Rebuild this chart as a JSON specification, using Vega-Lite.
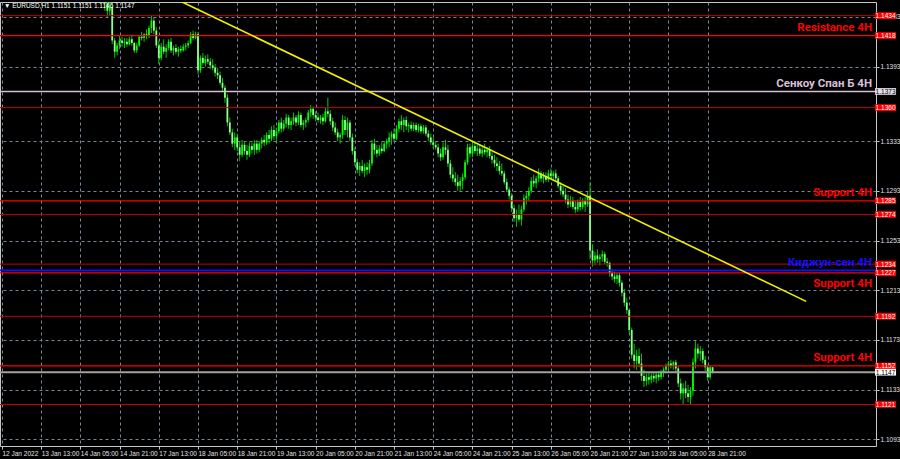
{
"$schema": "https://vega.github.io/schema/vega-lite/v6.json",
"width": 876, "height": 444,
"autosize": {"type": "none"},
"padding": {"left": 0, "top": 2, "right": 24, "bottom": 13},
"background": "#000000",
"config": {"view": {"stroke": "#c8c8c8", "strokeWidth": 1}},
"datasets": {
"candles": [
{"i":40,"o":1.1470,"h":1.1478,"l":1.1458,"c":1.1462},
{"i":41,"o":1.1462,"h":1.1468,"l":1.1448,"c":1.1452},
{"i":42,"o":1.1452,"h":1.1460,"l":1.1438,"c":1.1444},
{"i":43,"o":1.1444,"h":1.1452,"l":1.1433,"c":1.1438},
{"i":44,"o":1.1438,"h":1.1448,"l":1.1434,"c":1.1441},
{"i":45,"o":1.1441,"h":1.1444,"l":1.1411,"c":1.1414},
{"i":46,"o":1.1414,"h":1.1416,"l":1.1400,"c":1.1405},
{"i":47,"o":1.1405,"h":1.1412,"l":1.1402,"c":1.1410},
{"i":48,"o":1.1410,"h":1.1418,"l":1.1407,"c":1.1414},
{"i":49,"o":1.1414,"h":1.1417,"l":1.1409,"c":1.1412},
{"i":50,"o":1.1412,"h":1.1416,"l":1.1408,"c":1.1413},
{"i":51,"o":1.1413,"h":1.1416,"l":1.1409,"c":1.1411},
{"i":52,"o":1.1411,"h":1.1417,"l":1.1410,"c":1.1415},
{"i":53,"o":1.1415,"h":1.1418,"l":1.1410,"c":1.1412},
{"i":54,"o":1.1412,"h":1.1413,"l":1.1404,"c":1.1406},
{"i":55,"o":1.1406,"h":1.1412,"l":1.1404,"c":1.1410},
{"i":56,"o":1.1410,"h":1.1418,"l":1.1409,"c":1.1417},
{"i":57,"o":1.1417,"h":1.1421,"l":1.1414,"c":1.1416},
{"i":58,"o":1.1416,"h":1.1420,"l":1.1413,"c":1.1419},
{"i":59,"o":1.1419,"h":1.1423,"l":1.1415,"c":1.1418},
{"i":60,"o":1.1418,"h":1.1426,"l":1.1416,"c":1.1424},
{"i":61,"o":1.1424,"h":1.1434,"l":1.1420,"c":1.1430},
{"i":62,"o":1.1430,"h":1.1433,"l":1.1419,"c":1.1422},
{"i":63,"o":1.1422,"h":1.1425,"l":1.1408,"c":1.1410},
{"i":64,"o":1.1410,"h":1.1414,"l":1.1395,"c":1.1400},
{"i":65,"o":1.1400,"h":1.1412,"l":1.1398,"c":1.1409},
{"i":66,"o":1.1409,"h":1.1415,"l":1.1403,"c":1.1405},
{"i":67,"o":1.1405,"h":1.1411,"l":1.1400,"c":1.1408},
{"i":68,"o":1.1408,"h":1.1415,"l":1.1406,"c":1.1413},
{"i":69,"o":1.1413,"h":1.1416,"l":1.1404,"c":1.1406},
{"i":70,"o":1.1406,"h":1.1410,"l":1.1402,"c":1.1408},
{"i":71,"o":1.1408,"h":1.1411,"l":1.1403,"c":1.1405},
{"i":72,"o":1.1405,"h":1.1409,"l":1.1401,"c":1.1407},
{"i":73,"o":1.1407,"h":1.1410,"l":1.1404,"c":1.1406},
{"i":74,"o":1.1406,"h":1.1411,"l":1.1405,"c":1.1409},
{"i":75,"o":1.1409,"h":1.1412,"l":1.1406,"c":1.1410},
{"i":76,"o":1.1410,"h":1.1414,"l":1.1408,"c":1.1412},
{"i":77,"o":1.1412,"h":1.1421,"l":1.1411,"c":1.1419},
{"i":78,"o":1.1419,"h":1.1422,"l":1.1414,"c":1.1416},
{"i":79,"o":1.1416,"h":1.1421,"l":1.1415,"c":1.1419},
{"i":80,"o":1.1419,"h":1.1421,"l":1.1387,"c":1.1390},
{"i":81,"o":1.1390,"h":1.1402,"l":1.1388,"c":1.1400},
{"i":82,"o":1.1400,"h":1.1404,"l":1.1394,"c":1.1396},
{"i":83,"o":1.1396,"h":1.1402,"l":1.1393,"c":1.1399},
{"i":84,"o":1.1399,"h":1.1403,"l":1.1395,"c":1.1397},
{"i":85,"o":1.1397,"h":1.1400,"l":1.1391,"c":1.1394},
{"i":86,"o":1.1394,"h":1.1399,"l":1.1390,"c":1.1392},
{"i":87,"o":1.1392,"h":1.1395,"l":1.1385,"c":1.1388},
{"i":88,"o":1.1388,"h":1.1392,"l":1.1383,"c":1.1386},
{"i":89,"o":1.1386,"h":1.1389,"l":1.1378,"c":1.1380},
{"i":90,"o":1.1380,"h":1.1384,"l":1.1373,"c":1.1376},
{"i":91,"o":1.1376,"h":1.1378,"l":1.1364,"c":1.1368},
{"i":92,"o":1.1368,"h":1.1371,"l":1.1345,"c":1.1348},
{"i":93,"o":1.1348,"h":1.1352,"l":1.1338,"c":1.1340},
{"i":94,"o":1.1340,"h":1.1343,"l":1.1328,"c":1.1331},
{"i":95,"o":1.1331,"h":1.1340,"l":1.1326,"c":1.1336},
{"i":96,"o":1.1336,"h":1.1339,"l":1.1325,"c":1.1328},
{"i":97,"o":1.1328,"h":1.1333,"l":1.1317,"c":1.1322},
{"i":98,"o":1.1322,"h":1.1334,"l":1.1320,"c":1.1330},
{"i":99,"o":1.1330,"h":1.1333,"l":1.1322,"c":1.1325},
{"i":100,"o":1.1325,"h":1.1330,"l":1.1318,"c":1.1322},
{"i":101,"o":1.1322,"h":1.1332,"l":1.1320,"c":1.1329},
{"i":102,"o":1.1329,"h":1.1332,"l":1.1323,"c":1.1326},
{"i":103,"o":1.1326,"h":1.1334,"l":1.1322,"c":1.1331},
{"i":104,"o":1.1331,"h":1.1334,"l":1.1323,"c":1.1326},
{"i":105,"o":1.1326,"h":1.1333,"l":1.1324,"c":1.1331},
{"i":106,"o":1.1331,"h":1.1336,"l":1.1327,"c":1.1334},
{"i":107,"o":1.1334,"h":1.1338,"l":1.1329,"c":1.1332},
{"i":108,"o":1.1332,"h":1.1340,"l":1.1330,"c":1.1338},
{"i":109,"o":1.1338,"h":1.1342,"l":1.1331,"c":1.1335},
{"i":110,"o":1.1335,"h":1.1345,"l":1.1333,"c":1.1342},
{"i":111,"o":1.1342,"h":1.1346,"l":1.1334,"c":1.1337},
{"i":112,"o":1.1337,"h":1.1344,"l":1.1332,"c":1.1341},
{"i":113,"o":1.1341,"h":1.1350,"l":1.1339,"c":1.1348},
{"i":114,"o":1.1348,"h":1.1352,"l":1.1340,"c":1.1343},
{"i":115,"o":1.1343,"h":1.1350,"l":1.1341,"c":1.1347},
{"i":116,"o":1.1347,"h":1.1355,"l":1.1344,"c":1.1352},
{"i":117,"o":1.1352,"h":1.1354,"l":1.1343,"c":1.1346},
{"i":118,"o":1.1346,"h":1.1352,"l":1.1342,"c":1.1349},
{"i":119,"o":1.1349,"h":1.1356,"l":1.1346,"c":1.1352},
{"i":120,"o":1.1352,"h":1.1354,"l":1.1345,"c":1.1348},
{"i":121,"o":1.1348,"h":1.1357,"l":1.1346,"c":1.1354},
{"i":122,"o":1.1354,"h":1.1356,"l":1.1344,"c":1.1346},
{"i":123,"o":1.1346,"h":1.1350,"l":1.1342,"c":1.1348},
{"i":124,"o":1.1348,"h":1.1352,"l":1.1344,"c":1.1350},
{"i":125,"o":1.1350,"h":1.1358,"l":1.1348,"c":1.1356},
{"i":126,"o":1.1356,"h":1.1362,"l":1.1352,"c":1.1359},
{"i":127,"o":1.1359,"h":1.1361,"l":1.1351,"c":1.1354},
{"i":128,"o":1.1354,"h":1.1357,"l":1.1349,"c":1.1352},
{"i":129,"o":1.1352,"h":1.1356,"l":1.1348,"c":1.1350},
{"i":130,"o":1.1350,"h":1.1354,"l":1.1347,"c":1.1352},
{"i":131,"o":1.1352,"h":1.1355,"l":1.1346,"c":1.1349},
{"i":132,"o":1.1349,"h":1.1360,"l":1.1348,"c":1.1357},
{"i":133,"o":1.1357,"h":1.1368,"l":1.1352,"c":1.1355},
{"i":134,"o":1.1355,"h":1.1358,"l":1.1346,"c":1.1349},
{"i":135,"o":1.1349,"h":1.1352,"l":1.1341,"c":1.1344},
{"i":136,"o":1.1344,"h":1.1348,"l":1.1338,"c":1.1340},
{"i":137,"o":1.1340,"h":1.1343,"l":1.1333,"c":1.1336},
{"i":138,"o":1.1336,"h":1.1340,"l":1.1331,"c":1.1338},
{"i":139,"o":1.1338,"h":1.1354,"l":1.1335,"c":1.1350},
{"i":140,"o":1.1350,"h":1.1353,"l":1.1338,"c":1.1342},
{"i":141,"o":1.1342,"h":1.1352,"l":1.1336,"c":1.1348},
{"i":142,"o":1.1348,"h":1.1350,"l":1.1333,"c":1.1336},
{"i":143,"o":1.1336,"h":1.1339,"l":1.1322,"c":1.1325},
{"i":144,"o":1.1325,"h":1.1328,"l":1.1313,"c":1.1316},
{"i":145,"o":1.1316,"h":1.1319,"l":1.1307,"c":1.1310},
{"i":146,"o":1.1310,"h":1.1316,"l":1.1305,"c":1.1313},
{"i":147,"o":1.1313,"h":1.1318,"l":1.1307,"c":1.1309},
{"i":148,"o":1.1309,"h":1.1315,"l":1.1304,"c":1.1312},
{"i":149,"o":1.1312,"h":1.1316,"l":1.1306,"c":1.1310},
{"i":150,"o":1.1310,"h":1.1318,"l":1.1307,"c":1.1315},
{"i":151,"o":1.1315,"h":1.1334,"l":1.1313,"c":1.1331},
{"i":152,"o":1.1331,"h":1.1335,"l":1.1322,"c":1.1326},
{"i":153,"o":1.1326,"h":1.1330,"l":1.1320,"c":1.1323},
{"i":154,"o":1.1323,"h":1.1330,"l":1.1321,"c":1.1327},
{"i":155,"o":1.1327,"h":1.1332,"l":1.1323,"c":1.1325},
{"i":156,"o":1.1325,"h":1.1333,"l":1.1324,"c":1.1331},
{"i":157,"o":1.1331,"h":1.1335,"l":1.1327,"c":1.1333},
{"i":158,"o":1.1333,"h":1.1340,"l":1.1328,"c":1.1336},
{"i":159,"o":1.1336,"h":1.1341,"l":1.1330,"c":1.1339},
{"i":160,"o":1.1339,"h":1.1343,"l":1.1333,"c":1.1335},
{"i":161,"o":1.1335,"h":1.1346,"l":1.1334,"c":1.1343},
{"i":162,"o":1.1343,"h":1.1351,"l":1.1340,"c":1.1349},
{"i":163,"o":1.1349,"h":1.1354,"l":1.1342,"c":1.1346},
{"i":164,"o":1.1346,"h":1.1352,"l":1.1340,"c":1.1350},
{"i":165,"o":1.1350,"h":1.1353,"l":1.1342,"c":1.1345},
{"i":166,"o":1.1345,"h":1.1348,"l":1.1340,"c":1.1346},
{"i":167,"o":1.1346,"h":1.1349,"l":1.1341,"c":1.1343},
{"i":168,"o":1.1343,"h":1.1348,"l":1.1341,"c":1.1346},
{"i":169,"o":1.1346,"h":1.1348,"l":1.1340,"c":1.1342},
{"i":170,"o":1.1342,"h":1.1347,"l":1.1340,"c":1.1345},
{"i":171,"o":1.1345,"h":1.1347,"l":1.1339,"c":1.1341},
{"i":172,"o":1.1341,"h":1.1346,"l":1.1339,"c":1.1344},
{"i":173,"o":1.1344,"h":1.1346,"l":1.1337,"c":1.1339},
{"i":174,"o":1.1339,"h":1.1342,"l":1.1333,"c":1.1336},
{"i":175,"o":1.1336,"h":1.1339,"l":1.1330,"c":1.1332},
{"i":176,"o":1.1332,"h":1.1336,"l":1.1327,"c":1.1330},
{"i":177,"o":1.1330,"h":1.1333,"l":1.1326,"c":1.1328},
{"i":178,"o":1.1328,"h":1.1331,"l":1.1320,"c":1.1323},
{"i":179,"o":1.1323,"h":1.1327,"l":1.1317,"c":1.1320},
{"i":180,"o":1.1320,"h":1.1332,"l":1.1318,"c":1.1328},
{"i":181,"o":1.1328,"h":1.1334,"l":1.1322,"c":1.1326},
{"i":182,"o":1.1326,"h":1.1330,"l":1.1312,"c":1.1315},
{"i":183,"o":1.1315,"h":1.1318,"l":1.1303,"c":1.1306},
{"i":184,"o":1.1306,"h":1.1312,"l":1.1300,"c":1.1303},
{"i":185,"o":1.1303,"h":1.1308,"l":1.1297,"c":1.1300},
{"i":186,"o":1.1300,"h":1.1306,"l":1.1293,"c":1.1297},
{"i":187,"o":1.1297,"h":1.1304,"l":1.1292,"c":1.1301},
{"i":188,"o":1.1301,"h":1.1307,"l":1.1294,"c":1.1304},
{"i":189,"o":1.1304,"h":1.1318,"l":1.1302,"c":1.1316},
{"i":190,"o":1.1316,"h":1.1331,"l":1.1314,"c":1.1328},
{"i":191,"o":1.1328,"h":1.1331,"l":1.1320,"c":1.1323},
{"i":192,"o":1.1323,"h":1.1332,"l":1.1320,"c":1.1329},
{"i":193,"o":1.1329,"h":1.1333,"l":1.1323,"c":1.1325},
{"i":194,"o":1.1325,"h":1.1330,"l":1.1321,"c":1.1327},
{"i":195,"o":1.1327,"h":1.1330,"l":1.1321,"c":1.1323},
{"i":196,"o":1.1323,"h":1.1329,"l":1.1320,"c":1.1326},
{"i":197,"o":1.1326,"h":1.1331,"l":1.1322,"c":1.1324},
{"i":198,"o":1.1324,"h":1.1328,"l":1.1320,"c":1.1326},
{"i":199,"o":1.1326,"h":1.1329,"l":1.1319,"c":1.1321},
{"i":200,"o":1.1321,"h":1.1324,"l":1.1315,"c":1.1318},
{"i":201,"o":1.1318,"h":1.1322,"l":1.1312,"c":1.1315},
{"i":202,"o":1.1315,"h":1.1320,"l":1.1309,"c":1.1313},
{"i":203,"o":1.1313,"h":1.1317,"l":1.1306,"c":1.1309},
{"i":204,"o":1.1309,"h":1.1315,"l":1.1305,"c":1.1307},
{"i":205,"o":1.1307,"h":1.1309,"l":1.1298,"c":1.1300},
{"i":206,"o":1.1300,"h":1.1303,"l":1.1292,"c":1.1294},
{"i":207,"o":1.1294,"h":1.1296,"l":1.1286,"c":1.1289},
{"i":208,"o":1.1289,"h":1.1291,"l":1.1276,"c":1.1279},
{"i":209,"o":1.1279,"h":1.1282,"l":1.1268,"c":1.1271},
{"i":210,"o":1.1271,"h":1.1278,"l":1.1264,"c":1.1274},
{"i":211,"o":1.1274,"h":1.1282,"l":1.1268,"c":1.1270},
{"i":212,"o":1.1270,"h":1.1281,"l":1.1265,"c":1.1278},
{"i":213,"o":1.1278,"h":1.1290,"l":1.1276,"c":1.1287},
{"i":214,"o":1.1287,"h":1.1292,"l":1.1282,"c":1.1289},
{"i":215,"o":1.1289,"h":1.1296,"l":1.1285,"c":1.1293},
{"i":216,"o":1.1293,"h":1.1304,"l":1.1291,"c":1.1301},
{"i":217,"o":1.1301,"h":1.1306,"l":1.1296,"c":1.1299},
{"i":218,"o":1.1299,"h":1.1305,"l":1.1295,"c":1.1303},
{"i":219,"o":1.1303,"h":1.1311,"l":1.1300,"c":1.1307},
{"i":220,"o":1.1307,"h":1.1309,"l":1.1300,"c":1.1303},
{"i":221,"o":1.1303,"h":1.1308,"l":1.1299,"c":1.1305},
{"i":222,"o":1.1305,"h":1.1308,"l":1.1300,"c":1.1302},
{"i":223,"o":1.1302,"h":1.1310,"l":1.1300,"c":1.1307},
{"i":224,"o":1.1307,"h":1.1311,"l":1.1303,"c":1.1305},
{"i":225,"o":1.1305,"h":1.1309,"l":1.1302,"c":1.1307},
{"i":226,"o":1.1307,"h":1.1310,"l":1.1300,"c":1.1303},
{"i":227,"o":1.1303,"h":1.1305,"l":1.1295,"c":1.1297},
{"i":228,"o":1.1297,"h":1.1300,"l":1.1290,"c":1.1293},
{"i":229,"o":1.1293,"h":1.1297,"l":1.1288,"c":1.1290},
{"i":230,"o":1.1290,"h":1.1295,"l":1.1283,"c":1.1286},
{"i":231,"o":1.1286,"h":1.1290,"l":1.1279,"c":1.1282},
{"i":232,"o":1.1282,"h":1.1289,"l":1.1280,"c":1.1285},
{"i":233,"o":1.1285,"h":1.1288,"l":1.1278,"c":1.1280},
{"i":234,"o":1.1280,"h":1.1285,"l":1.1275,"c":1.1278},
{"i":235,"o":1.1278,"h":1.1286,"l":1.1276,"c":1.1284},
{"i":236,"o":1.1284,"h":1.1288,"l":1.1277,"c":1.1280},
{"i":237,"o":1.1280,"h":1.1287,"l":1.1278,"c":1.1285},
{"i":238,"o":1.1285,"h":1.1288,"l":1.1276,"c":1.1282},
{"i":239,"o":1.1282,"h":1.1292,"l":1.1280,"c":1.1289},
{"i":240,"o":1.1289,"h":1.1300,"l":1.1238,"c":1.1245},
{"i":241,"o":1.1245,"h":1.1250,"l":1.1232,"c":1.1237},
{"i":242,"o":1.1237,"h":1.1244,"l":1.1233,"c":1.1241},
{"i":243,"o":1.1241,"h":1.1246,"l":1.1235,"c":1.1238},
{"i":244,"o":1.1238,"h":1.1242,"l":1.1233,"c":1.1240},
{"i":245,"o":1.1240,"h":1.1245,"l":1.1236,"c":1.1242},
{"i":246,"o":1.1242,"h":1.1244,"l":1.1234,"c":1.1236},
{"i":247,"o":1.1236,"h":1.1239,"l":1.1232,"c":1.1235},
{"i":248,"o":1.1235,"h":1.1236,"l":1.1224,"c":1.1227},
{"i":249,"o":1.1227,"h":1.1230,"l":1.1221,"c":1.1224},
{"i":250,"o":1.1224,"h":1.1228,"l":1.1219,"c":1.1222},
{"i":251,"o":1.1222,"h":1.1227,"l":1.1218,"c":1.1225},
{"i":252,"o":1.1225,"h":1.1227,"l":1.1216,"c":1.1219},
{"i":253,"o":1.1219,"h":1.1221,"l":1.1208,"c":1.1211},
{"i":254,"o":1.1211,"h":1.1214,"l":1.1200,"c":1.1203},
{"i":255,"o":1.1203,"h":1.1207,"l":1.1194,"c":1.1197},
{"i":256,"o":1.1197,"h":1.1198,"l":1.1178,"c":1.1181},
{"i":257,"o":1.1181,"h":1.1183,"l":1.1158,"c":1.1161},
{"i":258,"o":1.1161,"h":1.1170,"l":1.1150,"c":1.1156},
{"i":259,"o":1.1156,"h":1.1165,"l":1.1149,"c":1.1160},
{"i":260,"o":1.1160,"h":1.1166,"l":1.1151,"c":1.1154},
{"i":261,"o":1.1154,"h":1.1162,"l":1.1140,"c":1.1144},
{"i":262,"o":1.1144,"h":1.1149,"l":1.1135,"c":1.1140},
{"i":263,"o":1.1140,"h":1.1146,"l":1.1136,"c":1.1143},
{"i":264,"o":1.1143,"h":1.1147,"l":1.1137,"c":1.1141},
{"i":265,"o":1.1141,"h":1.1146,"l":1.1138,"c":1.1144},
{"i":266,"o":1.1144,"h":1.1147,"l":1.1139,"c":1.1142},
{"i":267,"o":1.1142,"h":1.1147,"l":1.1138,"c":1.1145},
{"i":268,"o":1.1145,"h":1.1148,"l":1.1140,"c":1.1143},
{"i":269,"o":1.1143,"h":1.1149,"l":1.1141,"c":1.1147},
{"i":270,"o":1.1147,"h":1.1151,"l":1.1143,"c":1.1149},
{"i":271,"o":1.1149,"h":1.1154,"l":1.1146,"c":1.1152},
{"i":272,"o":1.1152,"h":1.1156,"l":1.1149,"c":1.1154},
{"i":273,"o":1.1154,"h":1.1157,"l":1.1150,"c":1.1152},
{"i":274,"o":1.1152,"h":1.1156,"l":1.1149,"c":1.1155},
{"i":275,"o":1.1155,"h":1.1157,"l":1.1147,"c":1.1150},
{"i":276,"o":1.1150,"h":1.1152,"l":1.1135,"c":1.1138},
{"i":277,"o":1.1138,"h":1.1142,"l":1.1125,"c":1.1130},
{"i":278,"o":1.1130,"h":1.1138,"l":1.1121,"c":1.1134},
{"i":279,"o":1.1134,"h":1.1140,"l":1.1126,"c":1.1130},
{"i":280,"o":1.1130,"h":1.1137,"l":1.1123,"c":1.1127},
{"i":281,"o":1.1127,"h":1.1135,"l":1.1121,"c":1.1132},
{"i":282,"o":1.1132,"h":1.1158,"l":1.1128,"c":1.1155},
{"i":283,"o":1.1155,"h":1.1172,"l":1.1150,"c":1.1166},
{"i":284,"o":1.1166,"h":1.1170,"l":1.1158,"c":1.1162},
{"i":285,"o":1.1162,"h":1.1168,"l":1.1156,"c":1.1164},
{"i":286,"o":1.1164,"h":1.1166,"l":1.1154,"c":1.1157},
{"i":287,"o":1.1157,"h":1.1160,"l":1.1148,"c":1.1151},
{"i":288,"o":1.1151,"h":1.1153,"l":1.1140,"c":1.1143},
{"i":289,"o":1.1143,"h":1.1153,"l":1.1141,"c":1.1151},
{"i":290,"o":1.1151,"h":1.1151,"l":1.1146,"c":1.1147}
],
"levels": [
{"p":1.1434,"kind":"thin"},
{"p":1.1418,"kind":"level"},
{"p":1.1373,"kind":"senkou"},
{"p":1.1360,"kind":"thin"},
{"p":1.1285,"kind":"level"},
{"p":1.1274,"kind":"thin"},
{"p":1.1234,"kind":"thin"},
{"p":1.1229,"kind":"kijun"},
{"p":1.1227,"kind":"level"},
{"p":1.1192,"kind":"thin"},
{"p":1.1152,"kind":"level"},
{"p":1.1147,"kind":"price"},
{"p":1.1121,"kind":"thin"}
],
"notes": [
{"p":1.1418,"kind":"level","t":"Resistance 4H","side":"above"},
{"p":1.1373,"kind":"senkou","t":"Сенкоу Спан Б 4H","side":"above"},
{"p":1.1285,"kind":"level","t":"Support 4H","side":"above"},
{"p":1.1229,"kind":"kijun","t":"Киджун-сен 4H","side":"above"},
{"p":1.1227,"kind":"level","t":"Support 4H","side":"below"},
{"p":1.1152,"kind":"level","t":"Support 4H","side":"above"}
],
"trend": [
{"i":73.5,"p":1.1445},
{"i":328.2,"p":1.1204}
],
"header": [
{"i":0.8,"p":1.1440,"t":"▼ EURUSD,H1  1.1151 1.1151 1.1146 1.1147"}
]
},
"layer": [
{
"data": {"name": "candles"},
"mark": {"type": "rule", "clip": true, "strokeWidth": 1, "color": "#00c800"},
"encoding": {
"x": {"field": "i", "type": "quantitative", "scale": {"domain": [-0.8, 356.7], "nice": false, "zero": false},
"axis": {"orient": "bottom", "title": null, "values": [0,16,32,48,64,80,96,112,128,144,160,176,192,208,224,240,256,272,288],
"labelExpr": "['12 Jan 2022','13 Jan 13:00','14 Jan 05:00','14 Jan 21:00','17 Jan 13:00','18 Jan 05:00','18 Jan 21:00','19 Jan 13:00','20 Jan 05:00','20 Jan 21:00','21 Jan 13:00','24 Jan 05:00','24 Jan 21:00','25 Jan 13:00','26 Jan 05:00','26 Jan 21:00','27 Jan 13:00','28 Jan 05:00','28 Jan 21:00'][round(datum.value/16)]",
"labelAlign": "left", "labelBaseline": "top", "labelPadding": 1, "labelFont": "Liberation Sans", "labelFontSize": 6.5, "labelColor": "#e0e0e0",
"labelOverlap": false, "labelFlush": false, "labelBound": false, "tickColor": "#c8c8c8", "tickSize": 3, "domain": false,
"grid": true, "gridColor": "#778899", "gridDash": [3, 3], "gridWidth": 1}},
"y": {"field": "l", "type": "quantitative", "scale": {"domain": [1.10876, 1.1445], "nice": false, "zero": false},
"axis": {"orient": "right", "title": null, "values": [1.1093,1.1113,1.1133,1.1153,1.1173,1.1193,1.1213,1.1233,1.1253,1.1273,1.1293,1.1313,1.1333,1.1353,1.1393,1.1413,1.1433],
"format": ".4f", "labelAlign": "left", "labelPadding": 1, "labelFont": "Liberation Sans", "labelFontSize": 6.5, "labelColor": "#e0e0e0",
"labelOverlap": false, "labelFlush": false, "labelBound": false, "tickColor": "#c8c8c8", "tickSize": 3, "domain": false,
"grid": true, "gridColor": "#778899", "gridDash": [3, 3], "gridWidth": 1}},
"y2": {"field": "h"}
}
},
{
"data": {"name": "candles"},
"mark": {"type": "rule", "clip": true, "strokeWidth": 1.8, "strokeCap": "butt"},
"encoding": {
"x": {"field": "i", "type": "quantitative", "scale": {"domain": [-0.8, 356.7], "nice": false, "zero": false}},
"y": {"field": "o", "type": "quantitative", "scale": {"domain": [1.10876, 1.1445], "nice": false, "zero": false}},
"y2": {"field": "c"},
"color": {"condition": {"test": "datum.c < datum.o", "value": "#8cff8c"}, "value": "#00ff00"}
}
},
{
"data": {"name": "levels"},
"mark": {"type": "rule"},
"encoding": {
"y": {"field": "p", "type": "quantitative", "scale": {"domain": [1.10876, 1.1445], "nice": false, "zero": false}},
"color": {"field": "kind", "type": "nominal", "legend": null,
"scale": {"domain": ["thin","level","senkou","kijun","price"], "range": ["#c80000","#ff0000","#d8bfd8","#1010ff","#a0a0a0"]}},
"strokeWidth": {"field": "kind", "type": "nominal", "legend": null,
"scale": {"domain": ["thin","level","senkou","kijun","price"], "range": [1, 2, 2, 2.5, 1]}}
}
},
{
"data": {"name": "trend"},
"mark": {"type": "line", "clip": true, "color": "#f0f000", "strokeWidth": 1.6},
"encoding": {
"x": {"field": "i", "type": "quantitative", "scale": {"domain": [-0.8, 356.7], "nice": false, "zero": false}},
"y": {"field": "p", "type": "quantitative", "scale": {"domain": [1.10876, 1.1445], "nice": false, "zero": false}}
}
},
{
"data": {"name": "notes"},
"transform": [{"filter": "datum.side == 'above'"}],
"mark": {"type": "text", "align": "right", "baseline": "alphabetic", "dy": -4.5, "font": "Roboto", "fontWeight": "bold", "fontSize": 11.5},
"encoding": {
"x": {"datum": 355.1, "type": "quantitative", "scale": {"domain": [-0.8, 356.7], "nice": false, "zero": false}},
"y": {"field": "p", "type": "quantitative", "scale": {"domain": [1.10876, 1.1445], "nice": false, "zero": false}},
"text": {"field": "t"},
"color": {"field": "kind", "type": "nominal", "legend": null,
"scale": {"domain": ["thin","level","senkou","kijun","price"], "range": ["#c80000","#ff0000","#d8bfd8","#1010ff","#a0a0a0"]}}
}
},
{
"data": {"name": "notes"},
"transform": [{"filter": "datum.side == 'below'"}],
"mark": {"type": "text", "align": "right", "baseline": "alphabetic", "dy": 14, "font": "Roboto", "fontWeight": "bold", "fontSize": 11.5},
"encoding": {
"x": {"datum": 355.1, "type": "quantitative", "scale": {"domain": [-0.8, 356.7], "nice": false, "zero": false}},
"y": {"field": "p", "type": "quantitative", "scale": {"domain": [1.10876, 1.1445], "nice": false, "zero": false}},
"text": {"field": "t"},
"color": {"field": "kind", "type": "nominal", "legend": null,
"scale": {"domain": ["thin","level","senkou","kijun","price"], "range": ["#c80000","#ff0000","#d8bfd8","#1010ff","#a0a0a0"]}}
}
},
{
"data": {"name": "levels"},
"transform": [{"filter": "datum.kind != 'kijun'"}],
"mark": {"type": "point", "shape": "M-1,-0.32H1V0.32H-1Z", "size": 441, "filled": true, "opacity": 1, "strokeWidth": 0},
"encoding": {
"x": {"datum": 360.6, "type": "quantitative", "scale": {"domain": [-0.8, 356.7], "nice": false, "zero": false}},
"y": {"field": "p", "type": "quantitative", "scale": {"domain": [1.10876, 1.1445], "nice": false, "zero": false}},
"fill": {"field": "kind", "type": "nominal", "legend": null,
"scale": {"domain": ["thin","level","senkou","kijun","price"], "range": ["#ff0000","#ff0000","#e6dcea","#ff0000","#ffffff"]}}
}
},
{
"data": {"name": "levels"},
"transform": [{"filter": "datum.kind != 'kijun'"}],
"mark": {"type": "text", "align": "center", "baseline": "middle", "dy": 0.5, "font": "Liberation Sans", "fontSize": 6.5},
"encoding": {
"x": {"datum": 360.6, "type": "quantitative", "scale": {"domain": [-0.8, 356.7], "nice": false, "zero": false}},
"y": {"field": "p", "type": "quantitative", "scale": {"domain": [1.10876, 1.1445], "nice": false, "zero": false}},
"text": {"field": "p", "format": ".4f"},
"color": {"condition": {"test": "datum.kind == 'senkou' || datum.kind == 'price'", "value": "#000000"}, "value": "#ffffff"}
}
},
{
"data": {"name": "header"},
"mark": {"type": "text", "align": "left", "baseline": "alphabetic", "font": "Liberation Sans", "fontSize": 6.5, "color": "#ffffff"},
"encoding": {
"x": {"field": "i", "type": "quantitative", "scale": {"domain": [-0.8, 356.7], "nice": false, "zero": false}},
"y": {"field": "p", "type": "quantitative", "scale": {"domain": [1.10876, 1.1445], "nice": false, "zero": false}},
"text": {"field": "t"}
}
}
]
}
